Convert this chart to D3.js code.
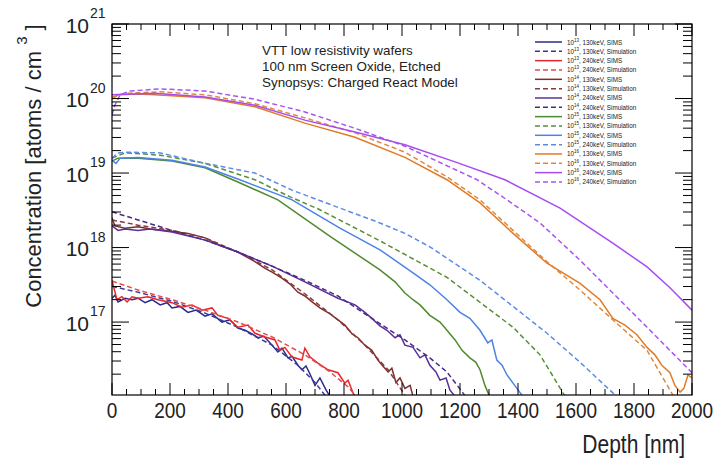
<!DOCTYPE html>
<html>
<head>
<meta charset="utf-8">
<script src="https://cdn.jsdelivr.net/npm/d3@7"></script>
<style>
body { margin: 0; background: #fff; }
svg { font-family: "Liberation Sans", Arial, sans-serif; }
</style>
</head>
<body>
<svg width="714" height="462"></svg>
<script>
// every point is [depth in nm, log10 of concentration in atoms/cm3]
var navySims = [[0,17.32],[10,17.36],[21,17.27],[45,17.32],[69,17.30],[90,17.32],[114,17.26],[138,17.30],[166,17.23],[190,17.26],[207,17.19],[234,17.21],[262,17.13],[290,17.16],[321,17.08],[345,17.11],[379,17.00],[407,17.03],[434,16.92],[459,16.89],[483,16.84],[503,16.79],[524,16.81],[552,16.69],[572,16.60],[586,16.65],[607,16.52],[621,16.54],[641,16.42],[655,16.36],[669,16.41],[683,16.30],[700,16.15],[717,16.25],[738,16.09],[752,16.00]];
var navySim = [[0,17.48],[90,17.40],[207,17.28],[321,17.12],[434,16.93],[552,16.69],[641,16.42],[700,16.19],[734,16.02],[745,15.95]];
var redSims = [[0,17.56],[17,17.30],[34,17.34],[52,17.27],[69,17.34],[90,17.32],[124,17.34],[159,17.30],[207,17.26],[241,17.20],[276,17.23],[310,17.16],[345,17.19],[365,17.09],[400,17.05],[434,16.93],[469,16.96],[493,16.85],[528,16.80],[562,16.76],[579,16.62],[596,16.66],[621,16.53],[655,16.49],[665,16.65],[683,16.53],[710,16.45],[745,16.36],[779,16.32],[803,16.18],[814,16.22],[831,16.05],[841,15.98]];
var redSim = [[0,17.55],[90,17.43],[207,17.30],[321,17.16],[434,17.00],[552,16.80],[665,16.56],[752,16.33],[814,16.13],[838,16.02],[848,15.98]];
var brownSims = [[0,18.40],[10,18.29],[45,18.26],[90,18.28],[131,18.25],[183,18.23],[262,18.19],[321,18.13],[372,18.03],[434,17.94],[493,17.81],[528,17.72],[552,17.67],[586,17.59],[614,17.51],[641,17.40],[665,17.35],[690,17.27],[717,17.19],[752,17.11],[779,17.03],[803,16.96],[828,16.84],[848,16.79],[872,16.69],[896,16.62],[917,16.49],[934,16.41],[952,16.33],[965,16.38],[979,16.19],[993,16.25],[1010,16.11],[1028,16.15],[1038,16.00]];
var brownSim = [[0,18.37],[90,18.30],[207,18.23],[321,18.13],[434,17.94],[552,17.70],[665,17.38],[779,17.03],[872,16.69],[952,16.36],[1010,16.02],[1021,15.98]];
var purpleSims = [[0,18.29],[21,18.23],[45,18.25],[90,18.23],[131,18.25],[207,18.21],[321,18.10],[434,17.94],[552,17.75],[665,17.54],[779,17.32],[838,17.23],[872,17.13],[896,17.05],[924,16.95],[948,16.89],[976,16.79],[993,16.83],[1010,16.69],[1038,16.66],[1062,16.52],[1079,16.56],[1096,16.42],[1117,16.33],[1131,16.22],[1152,16.25],[1165,16.09],[1183,16.00]];
var purpleSim = [[0,18.48],[90,18.37],[207,18.23],[321,18.10],[434,17.94],[552,17.75],[665,17.56],[779,17.35],[896,17.05],[1010,16.76],[1096,16.52],[1155,16.33],[1210,16.05],[1221,15.99]];
var greenSims = [[0,19.16],[21,19.20],[90,19.20],[207,19.16],[321,19.07],[434,18.88],[572,18.64],[752,18.15],[924,17.70],[976,17.54],[1010,17.39],[1038,17.30],[1062,17.23],[1096,17.09],[1131,17.00],[1155,16.89],[1183,16.76],[1207,16.62],[1234,16.52],[1255,16.46],[1269,16.36],[1286,16.15],[1300,16.02],[1305,15.97]];
var greenSim = [[0,19.20],[45,19.27],[166,19.24],[321,19.13],[493,18.91],[614,18.68],[710,18.52],[820,18.30],[924,18.09],[1155,17.60],[1383,16.93],[1476,16.56],[1555,16.05],[1565,15.99]];
var blueSims = [[0,19.17],[14,19.13],[28,19.20],[90,19.21],[207,19.17],[321,19.08],[434,18.92],[621,18.64],[786,18.26],[924,17.97],[1038,17.66],[1096,17.50],[1155,17.30],[1200,17.13],[1234,17.05],[1269,16.89],[1296,16.72],[1310,16.76],[1327,16.49],[1345,16.42],[1362,16.29],[1383,16.18],[1400,16.09],[1417,16.00]];
var blueSim = [[0,19.20],[21,19.27],[45,19.28],[166,19.27],[321,19.13],[493,19.00],[621,18.77],[786,18.53],[924,18.33],[1010,18.19],[1096,18.01],[1269,17.56],[1500,16.85],[1614,16.46],[1727,16.05],[1738,15.99]];
var orangeSims = [[0,19.99],[21,20.05],[90,20.06],[148,20.05],[321,20.01],[493,19.89],[665,19.67],[838,19.48],[1010,19.21],[1155,18.91],[1269,18.60],[1383,18.19],[1500,17.79],[1614,17.52],[1683,17.30],[1727,17.05],[1769,16.96],[1810,16.83],[1845,16.66],[1872,16.56],[1896,16.42],[1924,16.32],[1941,16.15],[1959,16.06],[1972,16.11],[1986,16.29],[2000,16.25]];
var orangeSim = [[0,20.02],[45,20.07],[166,20.09],[321,20.05],[493,19.93],[665,19.74],[838,19.54],[1010,19.28],[1155,18.95],[1269,18.64],[1383,18.23],[1500,17.81],[1614,17.43],[1727,17.03],[1845,16.62],[1934,16.02]];
var violetSims = [[0,20.05],[148,20.07],[321,20.02],[493,19.91],[665,19.71],[838,19.55],[1010,19.38],[1183,19.15],[1355,18.91],[1545,18.53],[1727,18.06],[1845,17.74],[1924,17.46],[2000,17.16]];
var violetSim = [[0,19.78],[10,19.91],[28,20.05],[62,20.10],[166,20.13],[321,20.10],[493,19.99],[665,19.82],[838,19.60],[1010,19.36],[1259,18.91],[1362,18.64],[1476,18.33],[1614,17.83],[1727,17.39],[1845,16.93],[1934,16.58],[2000,16.32]];

var doses = ["13","13","13","13","14","14","14","14","15","15","15","15","16","16","16","16"];
var energies = ["130keV","130keV","240keV","240keV","130keV","130keV","240keV","240keV","130keV","130keV","240keV","240keV","130keV","130keV","240keV","240keV"];
var kinds = ["SIMS","Simulation"];
var curves = [navySims, navySim, redSims, redSim, brownSims, brownSim, purpleSims, purpleSim,
              greenSims, greenSim, blueSims, blueSim, orangeSims, orangeSim, violetSims, violetSim];
var colors = ["#2c2c8a","#3a3a9a","#e8262a","#e84a4a","#7e2e2e","#8a3a3a","#5a2f96","#4a2a88",
              "#4f8a2e","#5a8f36","#4d82e6","#5a8ce8","#e07b28","#e0883c","#a84cf2","#a855f0"];
var xTicks = [0,200,400,600,800,1000,1200,1400,1600,1800,2000];
var yDecades = [17,18,19,20,21];
var noteLines = ["VTT low resistivity wafers","100 nm Screen Oxide, Etched","Synopsys: Charged React Model"];

var svg = d3.select("svg");
var x = d3.scaleLinear().domain([0, 2000]).range([112, 692]);
var y = d3.scaleLog().domain([1.05e16, 1e21]).range([395, 24]);

svg.append("clipPath").attr("id", "clip").append("rect")
  .attr("x", 112).attr("y", 24).attr("width", 580).attr("height", 371);

var line = d3.line()
  .x(function(d){ return x(d[0]); })
  .y(function(d){ return y(Math.pow(10, d[1])); });

var plot = svg.append("g").attr("clip-path", "url(#clip)");
curves.forEach(function(c, i){
  plot.append("path")
    .attr("d", line(c))
    .attr("fill", "none")
    .attr("stroke", colors[i])
    .attr("stroke-width", 1.5)
    .attr("stroke-dasharray", i % 2 ? "5,3" : null);
});

// frame
svg.append("rect").attr("x", 112).attr("y", 24).attr("width", 580).attr("height", 371)
  .attr("fill", "none").attr("stroke", "#000").attr("stroke-width", 1.2);

var ticks = svg.append("g").attr("stroke", "#000").attr("stroke-width", 1);
d3.range(0, 2001, 50).forEach(function(v){
  var len = v % 200 == 0 ? 12 : 6;
  ticks.append("line").attr("x1", x(v)).attr("x2", x(v)).attr("y1", 395).attr("y2", 395 - len);
  ticks.append("line").attr("x1", x(v)).attr("x2", x(v)).attr("y1", 24).attr("y2", 24 + len);
});
var yMinor = [];
[16,17,18,19,20].forEach(function(n){
  for (var k = 1; k <= 9; k++) {
    var v = k * Math.pow(10, n);
    if (v >= 1.05e16 && v <= 1e21) yMinor.push(v);
  }
});
yMinor.push(1e21);
yMinor.forEach(function(v){
  var major = Math.abs(Math.log10(v) - Math.round(Math.log10(v))) < 1e-9;
  var len = major ? 17 : 9;
  ticks.append("line").attr("x1", 112).attr("x2", 112 + len).attr("y1", y(v)).attr("y2", y(v));
  ticks.append("line").attr("x1", 692).attr("x2", 692 - len).attr("y1", y(v)).attr("y2", y(v));
});

// tick labels
xTicks.forEach(function(v){
  svg.append("text")
    .attr("transform", "translate(" + x(v) + ",418) scale(1,1.2)")
    .attr("text-anchor", "middle").attr("font-size", 19).attr("fill", "#222")
    .text(v);
});
yDecades.forEach(function(n){
  var yy = y(Math.pow(10, n));
  svg.append("text").attr("x", 89).attr("y", yy + 8.5)
    .attr("text-anchor", "end").attr("font-size", 21).attr("fill", "#222").text("10");
  svg.append("text").attr("x", 90).attr("y", yy - 6)
    .attr("font-size", 14).attr("fill", "#222").text(n);
});

// axis titles
svg.append("text")
  .attr("transform", "translate(685,453) scale(1,1.2)")
  .attr("text-anchor", "end").attr("font-size", 21).attr("fill", "#222")
  .text("Depth [nm]");
var yt = svg.append("text")
  .attr("transform", "translate(41,166) rotate(-90)")
  .attr("text-anchor", "middle").attr("font-size", 22).attr("fill", "#222");
yt.append("tspan").text("Concentration [atoms / cm ");
yt.append("tspan").attr("font-size", 15).attr("dy", -14).text("3");
yt.append("tspan").attr("dy", 14).text(" ]");

// note
noteLines.forEach(function(t, i){
  svg.append("text").attr("x", 262).attr("y", 55 + i * 16)
    .attr("font-size", 13.4).attr("fill", "#222").text(t);
});

// legend
curves.forEach(function(c, i){
  var ly = 42 + i * 9.33;
  svg.append("line").attr("x1", 535).attr("x2", 562).attr("y1", ly).attr("y2", ly)
    .attr("stroke", colors[i]).attr("stroke-width", 1.5)
    .attr("stroke-dasharray", i % 2 ? "5,3" : null);
  var t = svg.append("text").attr("x", 567).attr("y", ly + 2.5)
    .attr("font-size", 6.3).attr("fill", "#222");
  t.append("tspan").text("10");
  t.append("tspan").attr("font-size", 4.5).attr("dy", -3).text(doses[i]);
  t.append("tspan").attr("dy", 3).text(", " + energies[i] + ", " + kinds[i % 2]);
});
</script>
</body>
</html>
